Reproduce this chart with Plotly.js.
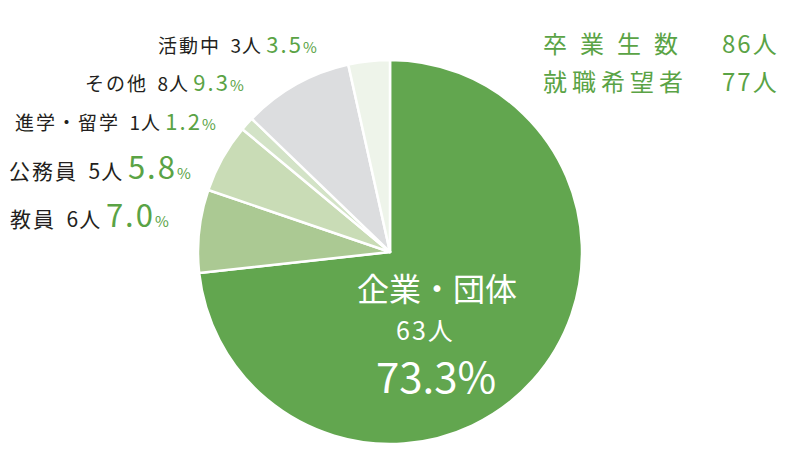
<!DOCTYPE html>
<html><head><meta charset="utf-8">
<script src="https://cdn.plot.ly/plotly-3.0.1.min.js"></script>
<style>body{margin:0;background:#fff}#c{width:800px;height:450px}</style>
</head><body><div id="c"></div>
<script>
const categories = ["企業・団体", "教員", "公務員", "進学・留学", "その他", "活動中"];
const counts = [63, 6, 5, 1, 8, 3];
const percents = ["73.3", "7.0", "5.8", "1.2", "9.3", "3.5"];
const colors = ["#62a64f", "#abc993", "#c9dcb6", "#d3e3c7", "#dcdddf", "#eef4ea"];
const totalGraduates = 86;
const jobSeekers = 77;

const GREEN = "#5aa345";
const DARK = "#231f20";
const FONT = "Noto Sans CJK JP, sans-serif";

const trace = {
  type: "pie",
  values: counts,
  labels: categories,
  sort: false,
  direction: "clockwise",
  rotation: 0,
  marker: {colors: colors, line: {color: "#ffffff", width: 2.5}},
  textinfo: "none",
  hoverinfo: "none",
  showlegend: false,
  domain: {x: [198/800, 582/800], y: [6/450, 390/450]}
};

// label placement for outside labels (index -> [right x px, y px, name font size, pct font size])
const labelPos = {5: [319, 43, 19, 22], 4: [246, 81, 19, 22], 3: [218, 120, 19, 22], 2: [193, 165, 21, 31], 1: [171, 213, 21, 31]};
const annotations = [];
Object.keys(labelPos).forEach(k => {
  const i = +k; const p = labelPos[k];
  annotations.push({
    xref: "paper", yref: "paper", x: p[0]/800, y: 1 - p[1]/450,
    xanchor: "right", yanchor: "middle", showarrow: false,
    font: {family: FONT, size: p[2], color: DARK},
    text: "<span style=\"letter-spacing:2px\">" + categories[i] + "</span>\u2002" +
      "<span style=\"letter-spacing:1px\">" + counts[i] + "人</span> " +
      "<span style=\"color:" + GREEN + ";font-size:" + p[3] + "px;letter-spacing:2px\">" + percents[i] + "</span>" +
      "<span style=\"color:" + GREEN + ";font-size:15px\">%</span>"
  });
});
// main slice labels
annotations.push({xref:"paper",yref:"paper",x:437/800,y:1-287/450,xanchor:"center",yanchor:"middle",showarrow:false,
  font:{family:FONT,size:32,color:"#ffffff"},text:categories[0]});
annotations.push({xref:"paper",yref:"paper",x:425/800,y:1-329/450,xanchor:"center",yanchor:"middle",showarrow:false,
  font:{family:FONT,size:25,color:"#ffffff"},text:"<span style=\"letter-spacing:2px\">"+counts[0]+"人</span>"});
annotations.push({xref:"paper",yref:"paper",x:436/800,y:1-374/450,xanchor:"center",yanchor:"middle",showarrow:false,
  font:{family:FONT,size:42,color:"#ffffff"},text:percents[0]+"%"});
// summary
annotations.push({xref:"paper",yref:"paper",x:541/800,y:1-42/450,xanchor:"left",yanchor:"middle",showarrow:false,
  font:{family:FONT,size:24,color:GREEN},text:"<span style=\"letter-spacing:13px\">卒業生数</span>"});
annotations.push({xref:"paper",yref:"paper",x:781/800,y:1-42/450,xanchor:"right",yanchor:"middle",showarrow:false,
  font:{family:FONT,size:24,color:GREEN},text:"<span style=\"letter-spacing:2px\">"+totalGraduates+"人</span>"});
annotations.push({xref:"paper",yref:"paper",x:541/800,y:1-80/450,xanchor:"left",yanchor:"middle",showarrow:false,
  font:{family:FONT,size:24,color:GREEN},text:"<span style=\"letter-spacing:5px\">就職希望者</span>"});
annotations.push({xref:"paper",yref:"paper",x:781/800,y:1-80/450,xanchor:"right",yanchor:"middle",showarrow:false,
  font:{family:FONT,size:24,color:GREEN},text:"<span style=\"letter-spacing:2px\">"+jobSeekers+"人</span>"});

const layout = {
  width: 800, height: 450,
  margin: {l: 0, r: 0, t: 0, b: 0},
  paper_bgcolor: "#ffffff",
  annotations: annotations
};
Plotly.newPlot("c", [trace], layout, {staticPlot: true});
</script>
</body></html>
